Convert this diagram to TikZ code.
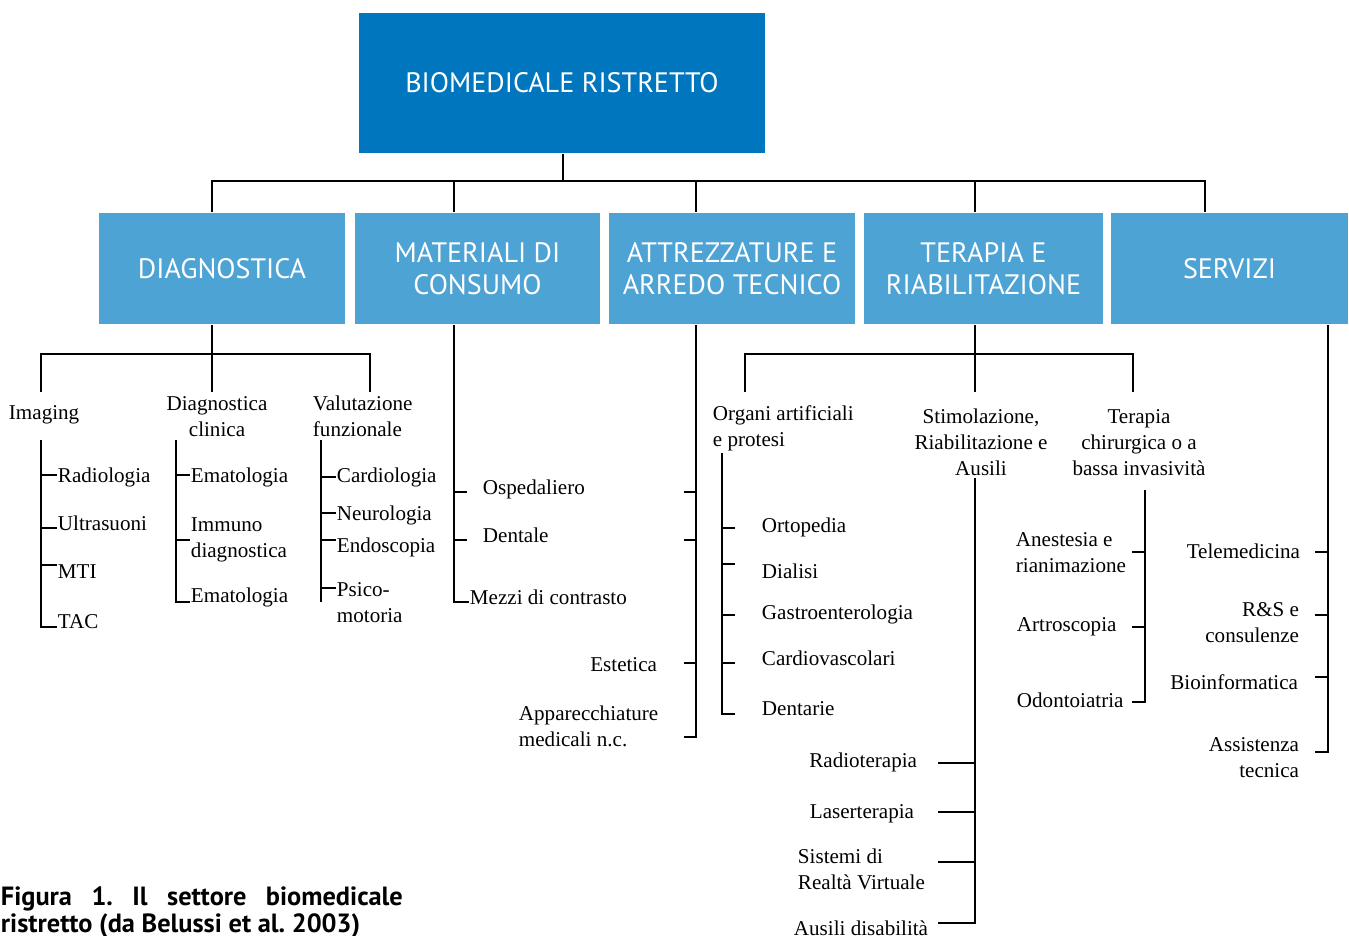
\documentclass[tikz,border=0pt]{standalone}
\usepackage{fontspec}
\setmainfont{Liberation Serif}
\newfontfamily\boxfont{PT Sans}
\usetikzlibrary{positioning}
\definecolor{rootblue}{RGB}{0,118,190}
\definecolor{headblue}{RGB}{78,163,213}

\begin{document}
\begin{tikzpicture}[x=0.02cm,y=-0.02cm,line width=1.1pt,
  rootbox/.style={fill=rootblue,text=white,inner sep=0pt,align=center,
    minimum width=8.12cm,minimum height=2.8cm,
    font=\boxfont\fontsize{16}{18.2}\selectfont},
  headbox/.style={fill=headblue,text=white,inner sep=0pt,align=center,
    minimum height=2.22cm,font=\boxfont\fontsize{16}{18.2}\selectfont},
  leaf/.style={inner sep=0pt,yshift=-1.3pt,font=\fontsize{12}{14.8}\selectfont}]

\useasboundingbox (0,0) rectangle (1349,936);

%Marking boxes
\node[rootbox] (root) at (562,83) {BIOMEDICALE RISTRETTO};
\node[headbox,minimum width=4.92cm] (diag) at (222,268.5) {DIAGNOSTICA};
\node[headbox,minimum width=4.90cm] (mat) at (477.5,268.5) {MATERIALI DI\\CONSUMO};
\node[headbox,minimum width=4.92cm] (attr) at (732,268.5) {ATTREZZATURE E\\ARREDO TECNICO};
\node[headbox,minimum width=4.78cm] (ter) at (983.5,268.5) {TERAPIA E\\RIABILITAZIONE};
\node[headbox,minimum width=4.74cm] (serv) at (1229.5,268.5) {SERVIZI};

%Drawing first level
\coordinate (bus) at (563,181);
\coordinate (busL) at (212,181);
\coordinate (busM) at (454,181);
\coordinate (busA) at (696,181);
\coordinate (busT) at (975,181);
\coordinate (busR) at (1205,181);
\draw (root.south -| bus) -- (bus);
\draw (busL |- diag.north) -- (busL) -- (busR) -- (busR |- serv.north);
\draw (busM) -- (busM |- mat.north) (busA) -- (busA |- attr.north)
      (busT) -- (busT |- ter.north);

%Diagnostica
\coordinate (dbus) at (212,354);
\coordinate (dbusL) at (41,354);
\coordinate (dbusR) at (370,354);
\draw (diag.south -| dbus) -- (dbus) -- (dbus |- 0,392);
\draw (dbusL |- 0,392) -- (dbusL) -- (dbusR) -- (dbusR |- 0,392);

\node[leaf,anchor=west] (imaging) at (8,413) {Imaging};
\node[leaf,align=center] (dclin) at (217,414) {Diagnostica\\clinica};
\node[leaf,anchor=west,align=left] (valf) at (312,414) {Valutazione\\funzionale};

\draw (41,440) -- (41,627) -- (57,627);
\draw (41,475) -- (57,475) (41,528) -- (57,528) (41,565) -- (57,565);
\node[leaf,anchor=west] (rad) at (57,475) {Radiologia};
\node[leaf,anchor=west] (ultra) at (57,521) {Ultrasuoni};
\node[leaf,anchor=west] (mti) at (57,569) {MTI};
\node[leaf,anchor=west] (tac) at (57,619) {TAC};

\draw (176,440) -- (176,602) -- (190,602);
\draw (176,475) -- (190,475) (176,540) -- (190,540);
\node[leaf,anchor=west] (emaA) at (190,475) {Ematologia};
\node[leaf,anchor=west,align=left] (immuno) at (190,538) {Immuno\\diagnostica};
\node[leaf,anchor=west] (emaB) at (190,595) {Ematologia};

\draw (321,440) -- (321,602);
\draw (321,477) -- (336,477) (321,513) -- (336,513) (321,540) -- (336,540)
      (321,588) -- (336,588);
\node[leaf,anchor=west] (cardio) at (336,475) {Cardiologia};
\node[leaf,anchor=west] (neuro) at (336,513) {Neurologia};
\node[leaf,anchor=west] (endo) at (336,545) {Endoscopia};
\node[leaf,anchor=west,align=left] (psico) at (336,600) {Psico-\\motoria};

%Materiali di consumo
\draw (mat.south -| busM) -- (454,602) -- (469,602);
\draw (454,492) -- (467,492) (454,540) -- (467,540);
\node[leaf,anchor=west] (osp) at (482,487) {Ospedaliero};
\node[leaf,anchor=west] (dent) at (482,533) {Dentale};
\node[leaf,anchor=west] (mezzi) at (469,595) {Mezzi di contrasto};

%Attrezzature e arredo tecnico
\draw (attr.south -| busA) -- (696,737) -- (684,737);
\draw (684,492) -- (696,492) (684,540) -- (696,540) (684,663) -- (696,663);
\node[leaf,anchor=east] (estet) at (658,662) {Estetica};
\node[leaf,anchor=west,align=left] (appar) at (518,724) {Apparecchiature\\medicali n.c.};

%Terapia e riabilitazione
\coordinate (tbus) at (975,354);
\coordinate (tbusL) at (745,354);
\coordinate (tbusR) at (1133,354);
\draw (ter.south -| tbus) -- (tbus) -- (tbus |- 0,392);
\draw (tbusL |- 0,392) -- (tbusL) -- (tbusR) -- (tbusR |- 0,392);

\node[leaf,anchor=west,align=left] (organi) at (712,426) {Organi artificiali\\e protesi};
\node[leaf,align=center] (stim) at (981,440) {Stimolazione,\\Riabilitazione e\\Ausili};
\node[leaf,align=center] (chir) at (1139,440) {Terapia\\chirurgica o a\\bassa invasivit\`a};

\draw (722,453) -- (722,714) -- (735,714);
\draw (722,528) -- (735,528) (722,564) -- (735,564) (722,615) -- (735,615)
      (722,663) -- (735,663);
\node[leaf,anchor=west] (orto) at (761,525) {Ortopedia};
\node[leaf,anchor=west] (dial) at (761,569) {Dialisi};
\node[leaf,anchor=west] (gastro) at (761,612) {Gastroenterologia};
\node[leaf,anchor=west] (cardv) at (761,656) {Cardiovascolari};
\node[leaf,anchor=west] (dentr) at (761,706) {Dentarie};

\draw (975,478) -- (975,923) -- (938,923);
\draw (938,763) -- (975,763) (938,812) -- (975,812) (938,862) -- (975,862);
\node[leaf,anchor=east] (radio) at (918,760) {Radioterapia};
\node[leaf,anchor=east] (laser) at (915,811) {Laserterapia};
\node[leaf,anchor=west,align=left] (vr) at (797,867) {Sistemi di\\Realt\`a Virtuale};
\node[leaf,anchor=west] (ausili) at (793,926) {Ausili disabilit\`a};

\draw (1145,490) -- (1145,702) -- (1132,702);
\draw (1132,552) -- (1145,552) (1132,627) -- (1145,627);
\node[leaf,anchor=west,align=left] (anest) at (1015,550) {Anestesia e\\rianimazione};
\node[leaf,anchor=west] (artro) at (1016,624) {Artroscopia};
\node[leaf,anchor=west] (odonto) at (1016,698) {Odontoiatria};

%Servizi
\draw (serv.south -| 1328,0) -- (1328,752) -- (1315,752);
\draw (1315,552) -- (1328,552) (1315,615) -- (1328,615) (1315,677) -- (1328,677);
\node[leaf,anchor=east] (tele) at (1301,549) {Telemedicina};
\node[leaf,anchor=east,align=right] (rs) at (1300,620) {R\&S e\\consulenze};
\node[leaf,anchor=east] (bioinf) at (1299,680) {Bioinformatica};
\node[leaf,anchor=east,align=right] (assist) at (1300,755) {Assistenza\\tecnica};

%Caption
\node[anchor=north west,inner sep=0pt,text width=8.04cm,align=justify,
  font=\boxfont\bfseries\fontsize{15}{15.4}\selectfont\frenchspacing] (caption) at (0,886)
  {Figura 1. Il settore biomedicale\linebreak ristretto (da Belussi et al. 2003)};
\end{tikzpicture}
\end{document}
